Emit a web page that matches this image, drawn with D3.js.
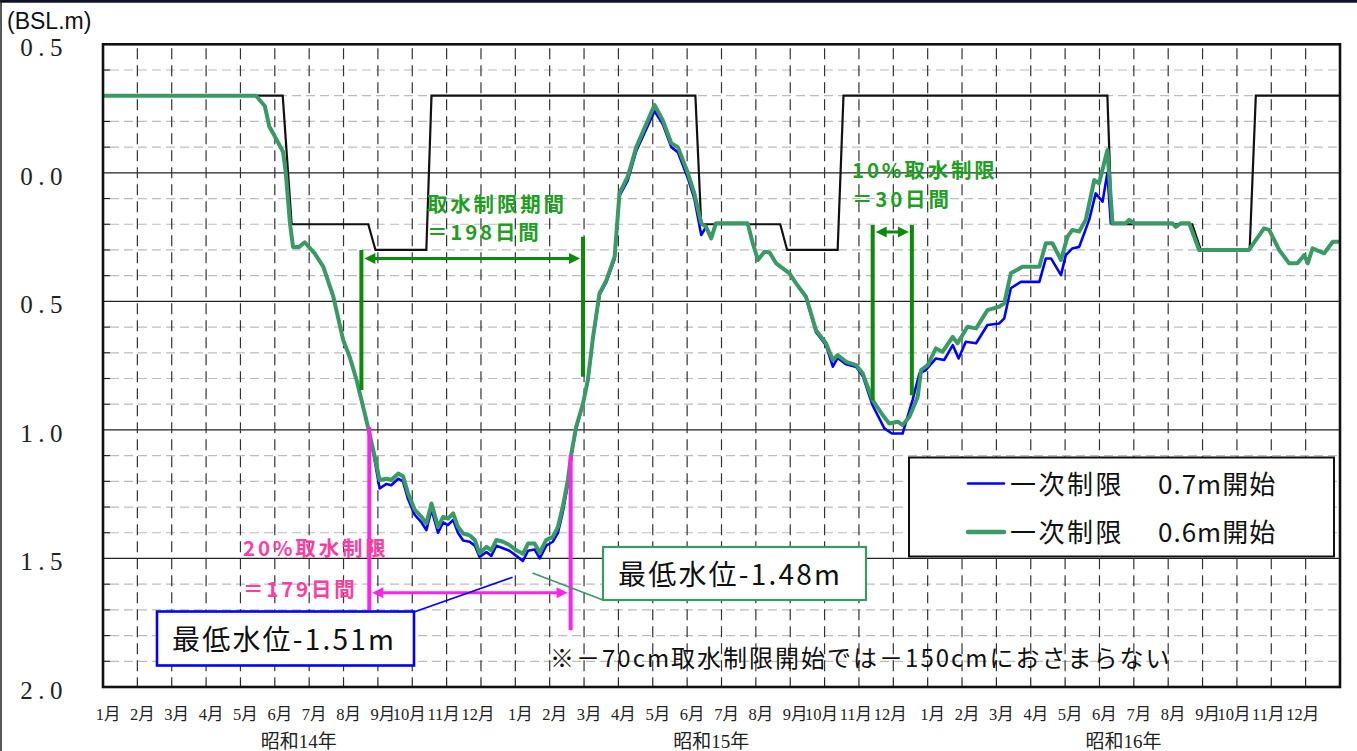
<!DOCTYPE html>
<html>
<head>
<meta charset="utf-8">
<script src="https://cdn.jsdelivr.net/npm/d3@7"></script>
<style>
  body { margin: 0; background: #fff; }
  svg { display: block; }
  .jp { font-family: "Noto Sans CJK JP", sans-serif; }
  .ser { font-family: "Liberation Serif", "Noto Sans CJK JP", serif; }
</style>
</head>
<body>
<svg id="chart" width="1357" height="751"></svg>
<script>
// months since 1 Jan 昭和14年, level in BSL m
const monthNames = ["1月","2月","3月","4月","5月","6月","7月","8月","9月","10月","11月","12月"];
const yearNames = ["昭和14年", "昭和15年", "昭和16年"];
const yTicks = [0.5, 0.0, -0.5, -1.0, -1.5, -2.0];
const minorTicks = [0.4, 0.3, 0.2, 0.1, -0.1, -0.2, -0.3, -0.4, -0.6, -0.7, -0.8, -0.9,
  -1.1, -1.2, -1.3, -1.4, -1.6, -1.7, -1.8, -1.9];
const majorLines = [0, -0.5, -1.0, -1.5];

// 制限水位 (black)
const ruleLevel = [
  [0,0.3],[5.23,0.3],[5.49,-0.2],[7.72,-0.2],[7.93,-0.3],[9.41,-0.3],[9.56,0.3],
  [17.24,0.3],[17.41,-0.2],[19.71,-0.2],[19.91,-0.3],[21.38,-0.3],[21.55,0.3],
  [29.23,0.3],[29.36,-0.2],[31.7,-0.2],[31.95,-0.3],[33.37,-0.3],[33.55,0.3],[36,0.3]
];

// 一次制限 0.6m開始 (green)
const level06 = [
  [0,0.3],[4.45,0.3],[4.71,0.26],[4.84,0.18],[4.95,0.154],[5.24,0.082],[5.32,0.0],[5.44,-0.195],
  [5.53,-0.288],[5.71,-0.288],[5.87,-0.27],[6.16,-0.313],[6.41,-0.365],[6.70,-0.48],[6.99,-0.65],
  [7.18,-0.716],[7.38,-0.806],[7.57,-0.91],[7.71,-0.988],[7.91,-1.105],[8.05,-1.195],[8.25,-1.19],
  [8.39,-1.195],[8.59,-1.17],[8.73,-1.18],[8.88,-1.247],[9.07,-1.31],[9.27,-1.338],[9.41,-1.364],
  [9.56,-1.286],[9.75,-1.377],[9.90,-1.338],[10.04,-1.345],[10.19,-1.325],[10.33,-1.377],[10.48,-1.403],
  [10.67,-1.41],[10.82,-1.428],[10.96,-1.48],[11.16,-1.455],[11.30,-1.468],[11.45,-1.428],[11.64,-1.435],
  [11.83,-1.448],[12.03,-1.468],[12.22,-1.482],[12.37,-1.442],[12.56,-1.442],[12.71,-1.478],[12.90,-1.428],
  [13.09,-1.416],[13.24,-1.377],[13.38,-1.299],[13.53,-1.195],[13.63,-1.092],[13.77,-0.988],[13.97,-0.897],
  [14.11,-0.806],[14.26,-0.64],[14.45,-0.469],[14.65,-0.417],[14.89,-0.326],[15.03,-0.08],[15.27,-0.015],
  [15.52,0.1],[16.05,0.264],[16.29,0.205],[16.54,0.115],[16.73,0.1],[17.02,0.0],[17.21,-0.08],[17.41,-0.196],
  [17.55,-0.21],[17.70,-0.255],[17.84,-0.196],[18.76,-0.196],[18.91,-0.274],[19.06,-0.339],[19.25,-0.307],
  [19.40,-0.31],[19.59,-0.352],[19.98,-0.391],[20.17,-0.43],[20.46,-0.482],[20.75,-0.612],[21.04,-0.663],
  [21.24,-0.728],[21.38,-0.709],[21.63,-0.735],[21.92,-0.748],[22.11,-0.78],[22.40,-0.884],[22.69,-0.942],
  [22.88,-0.975],[23.13,-0.968],[23.27,-0.981],[23.47,-0.949],[23.71,-0.871],[23.81,-0.767],[24.00,-0.748],
  [24.24,-0.683],[24.43,-0.696],[24.73,-0.638],[24.87,-0.663],[25.16,-0.599],[25.41,-0.605],[25.74,-0.534],
  [26.08,-0.521],[26.23,-0.508],[26.42,-0.391],[26.76,-0.365],[27.25,-0.365],[27.44,-0.274],[27.63,-0.274],
  [27.88,-0.339],[28.07,-0.248],[28.21,-0.222],[28.41,-0.228],[28.60,-0.183],[28.85,-0.028],[28.99,-0.041],
  [29.23,0.089],[29.38,-0.196],[29.77,-0.196],[29.86,-0.183],[30.01,-0.196],[31.12,-0.196],[31.22,-0.21],
  [31.37,-0.196],[31.61,-0.196],[31.90,-0.3],[33.35,-0.3],[33.79,-0.216],[33.94,-0.222],[34.23,-0.3],
  [34.52,-0.352],[34.76,-0.352],[34.96,-0.32],[35.06,-0.352],[35.20,-0.294],[35.54,-0.313],[35.79,-0.268],[36,-0.268]
];

// 一次制限 0.7m開始 (blue)
const level07 = [
  [0,0.3],[4.45,0.3],[4.71,0.26],[4.84,0.18],[4.95,0.154],[5.24,0.082],[5.32,0.0],[5.44,-0.195],
  [5.53,-0.288],[5.71,-0.288],[5.87,-0.27],[6.16,-0.313],[6.41,-0.365],[6.70,-0.48],[6.99,-0.65],
  [7.18,-0.716],[7.38,-0.806],[7.57,-0.91],[7.71,-0.988],[7.91,-1.12],[8.05,-1.228],[8.25,-1.21],
  [8.39,-1.215],[8.59,-1.19],[8.73,-1.2],[8.88,-1.27],[9.07,-1.33],[9.27,-1.36],[9.41,-1.39],
  [9.56,-1.31],[9.75,-1.40],[9.90,-1.36],[10.04,-1.37],[10.19,-1.35],[10.33,-1.40],[10.48,-1.43],
  [10.67,-1.435],[10.82,-1.45],[10.96,-1.494],[11.16,-1.475],[11.30,-1.49],[11.45,-1.45],[11.64,-1.46],
  [11.83,-1.47],[12.03,-1.49],[12.22,-1.51],[12.37,-1.47],[12.56,-1.465],[12.71,-1.50],[12.90,-1.45],
  [13.09,-1.435],[13.24,-1.40],[13.38,-1.32],[13.53,-1.21],[13.63,-1.10],[13.77,-0.995],[13.97,-0.90],
  [14.11,-0.81],[14.26,-0.645],[14.45,-0.475],[14.65,-0.425],[14.89,-0.335],[15.03,-0.09],[15.27,-0.03],
  [15.52,0.085],[16.05,0.24],[16.29,0.19],[16.54,0.10],[16.73,0.08],[17.02,-0.02],[17.21,-0.10],[17.41,-0.242],
  [17.55,-0.21],[17.70,-0.25],[17.84,-0.196],[18.76,-0.196],[18.91,-0.274],[19.06,-0.339],[19.25,-0.307],
  [19.40,-0.31],[19.59,-0.352],[19.98,-0.391],[20.17,-0.43],[20.46,-0.485],[20.75,-0.62],[21.04,-0.67],
  [21.24,-0.754],[21.38,-0.72],[21.63,-0.745],[21.92,-0.755],[22.11,-0.79],[22.40,-0.905],[22.74,-0.994],
  [22.96,-1.014],[23.27,-1.014],[23.56,-0.884],[23.76,-0.78],[23.95,-0.767],[24.24,-0.722],[24.48,-0.728],
  [24.73,-0.67],[24.90,-0.722],[25.11,-0.657],[25.41,-0.663],[25.74,-0.592],[26.08,-0.586],[26.23,-0.566],
  [26.42,-0.449],[26.71,-0.424],[27.25,-0.424],[27.44,-0.333],[27.59,-0.333],[27.88,-0.398],[28.02,-0.32],
  [28.21,-0.294],[28.41,-0.288],[28.70,-0.183],[28.89,-0.08],[29.09,-0.112],[29.23,0.0],[29.33,-0.196],
  [29.77,-0.196],[29.86,-0.183],[30.01,-0.196],[31.12,-0.196],[31.22,-0.21],[31.37,-0.196],[31.61,-0.196],
  [31.90,-0.3],[33.35,-0.3],[33.79,-0.216],[33.94,-0.222],[34.23,-0.3],[34.52,-0.352],[34.76,-0.352],
  [34.96,-0.32],[35.06,-0.352],[35.20,-0.294],[35.54,-0.313],[35.79,-0.268],[36,-0.268]
];

// brackets: [month, top level, bottom level]
const bracket198 = [[7.52,-0.30,-0.845],[13.97,-0.249,-0.793]];
const arrow198 = -0.333;
const bracket30 = [[22.40,-0.203,-0.885],[23.54,-0.203,-0.865]];
const arrow30 = -0.23;
const bracket179 = [[7.75,-0.989,-1.70],[13.61,-1.098,-1.779]];
const arrow179 = -1.633;

const svg = d3.select("#chart");
const W = 1357, H = 751;
const pL = 103, pR = 1340, pT = 44.3, pB = 687;

const x = d3.scaleLinear().domain([0, 36]).range([pL, pR]);
const y = d3.scaleLinear().domain([0.5, -2.0]).range([pT, pB]);

// frame of image
svg.append("rect").attr("width", W).attr("height", H).attr("fill", "#fff");
svg.append("line").attr("x1", 0).attr("x2", W).attr("y1", 1.2).attr("y2", 1.2)
  .attr("stroke", "#10122a").attr("stroke-width", 3);
svg.append("line").attr("x1", 1).attr("x2", 1).attr("y1", 0).attr("y2", H)
  .attr("stroke", "#222").attr("stroke-width", 1.5);

const grid = svg.append("g");
grid.selectAll(".hmin").data(minorTicks).join("line")
  .attr("x1", pL + 7).attr("x2", pR)
  .attr("y1", d => y(d)).attr("y2", d => y(d))
  .attr("stroke", "#bcbcbc").attr("stroke-width", 1.2).attr("stroke-dasharray", "9,5");
grid.selectAll(".htick").data(minorTicks).join("line")
  .attr("x1", pL).attr("x2", pL + 7)
  .attr("y1", d => y(d)).attr("y2", d => y(d))
  .attr("stroke", "#222").attr("stroke-width", 1.2);
grid.selectAll(".hmaj").data(majorLines).join("line")
  .attr("x1", pL).attr("x2", pR)
  .attr("y1", d => y(d)).attr("y2", d => y(d))
  .attr("stroke", "#222").attr("stroke-width", 1.3);
grid.selectAll(".v").data(d3.range(1, 36)).join("line")
  .attr("x1", d => x(d)).attr("x2", d => x(d))
  .attr("y1", pT + 4).attr("y2", pB - 7)
  .attr("stroke", "#333").attr("stroke-width", 1.2).attr("stroke-dasharray", "11,6");
grid.selectAll(".vt").data(d3.range(1, 36)).join("line")
  .attr("x1", d => x(d)).attr("x2", d => x(d))
  .attr("y1", pB - 7).attr("y2", pB)
  .attr("stroke", "#222").attr("stroke-width", 1.2);

// lines
const line = d3.line().x(d => x(d[0])).y(d => y(d[1]));
svg.append("path").datum(ruleLevel).attr("d", line)
  .attr("fill", "none").attr("stroke", "#111").attr("stroke-width", 2.2);
svg.append("path").datum(level07).attr("d", line)
  .attr("fill", "none").attr("stroke", "#0000ff").attr("stroke-width", 2.6).attr("stroke-linejoin", "round");
svg.append("path").datum(level06).attr("d", line)
  .attr("fill", "none").attr("stroke", "#3a9a66").attr("stroke-width", 4).attr("stroke-linejoin", "round");

// plot frame
svg.append("rect").attr("x", pL).attr("y", pT).attr("width", pR - pL).attr("height", pB - pT)
  .attr("fill", "none").attr("stroke", "#111").attr("stroke-width", 2.6);

// y labels
svg.append("g").selectAll("text").data(yTicks).join("text")
  .attr("class", "ser").attr("x", 68).attr("y", d => y(d) + 12)
  .attr("text-anchor", "end").attr("font-size", 25).attr("letter-spacing", "5.5px").attr("fill", "#222")
  .text(d => Math.abs(d).toFixed(1));
svg.append("text").attr("x", 7).attr("y", 29)
  .attr("font-family", "Liberation Sans, sans-serif")
  .attr("font-size", 23).attr("fill", "#111").text("(BSL.m)");

// x labels
svg.append("g").selectAll("text").data(d3.range(36)).join("text")
  .attr("class", "ser")
  .attr("x", d => x(d) + ((d % 12) < 9 ? 5 : -3)).attr("y", 720)
  .attr("text-anchor", "middle").attr("font-size", 16.5).attr("fill", "#222")
  .text(d => monthNames[d % 12]);
svg.append("g").selectAll("text").data(yearNames).join("text")
  .attr("class", "ser").attr("x", (d, i) => x(5.7 + 12 * i)).attr("y", 748)
  .attr("text-anchor", "middle").attr("font-size", 19).attr("fill", "#222")
  .text(d => d);

// arrows drawn as small triangles
function arrowHead(px, py, dir, color) {
  svg.append("path")
    .attr("d", `M${px},${py}l${-dir * 11},-5.5l0,11z`)
    .attr("fill", color);
}

function drawBracket(br, level, color, w) {
  const g = svg.append("g");
  g.selectAll("line").data(br).join("line")
    .attr("x1", d => x(d[0])).attr("x2", d => x(d[0]))
    .attr("y1", d => y(d[1])).attr("y2", d => y(d[2]))
    .attr("stroke", color).attr("stroke-width", w);
  const x1 = x(br[0][0]) + w / 2 + 1, x2 = x(br[1][0]) - w / 2 - 1;
  g.append("line")
    .attr("x1", x1 + 6).attr("x2", x2 - 6)
    .attr("y1", y(level)).attr("y2", y(level))
    .attr("stroke", color).attr("stroke-width", 3);
  arrowHead(x1, y(level), -1, color);
  arrowHead(x2, y(level), 1, color);
}
drawBracket(bracket198, arrow198, "#0b8a0b", 4);
drawBracket(bracket30, arrow30, "#0b8a0b", 4);
drawBracket(bracket179, arrow179, "#ff22ee", 4);

// annotation texts
function note(tx, ty, str, color) {
  svg.append("text").attr("class", "jp").attr("x", tx).attr("y", ty)
    .attr("font-size", 20.5).attr("font-weight", "bold").attr("letter-spacing", "2.8px")
    .attr("fill", color).text(str);
}
note(427, 212, "取水制限期間", "#1f9e24");
note(427, 240, "＝198日間", "#1f9e24");
note(852, 178, "10%取水制限", "#1f9e24");
note(852, 207, "＝30日間", "#1f9e24");
note(243, 556, "20%取水制限", "#ff3d9e");
note(243, 597, "＝179日間", "#ff3d9e");

// minimum level callouts
svg.append("line").attr("x1", 414).attr("y1", 612).attr("x2", x(11.92)).attr("y2", y(-1.573))
  .attr("stroke", "#0000ff").attr("stroke-width", 1.6);
svg.append("rect").attr("x", 157).attr("y", 611.5).attr("width", 257).attr("height", 54)
  .attr("fill", "#fff").attr("stroke", "#0000ff").attr("stroke-width", 2.6);
svg.append("text").attr("class", "jp").attr("x", 172).attr("y", 650)
  .attr("font-size", 28).attr("letter-spacing", "2.2px").attr("fill", "#111").text("最低水位-1.51m");

svg.append("line").attr("x1", x(12.5)).attr("y1", y(-1.557)).attr("x2", 603).attr("y2", 600)
  .attr("stroke", "#3a9a66").attr("stroke-width", 1.6);
svg.append("rect").attr("x", 603).attr("y", 547).attr("width", 263).attr("height", 53)
  .attr("fill", "#fff").attr("stroke", "#3a9a66").attr("stroke-width", 2.2);
svg.append("text").attr("class", "jp").attr("x", 618).attr("y", 585)
  .attr("font-size", 28).attr("letter-spacing", "2.2px").attr("fill", "#111").text("最低水位-1.48m");

svg.append("text").attr("class", "jp").attr("x", 550).attr("y", 667)
  .attr("font-size", 24).attr("letter-spacing", "2px").attr("fill", "#111")
  .text("※－70cm取水制限開始では－150cmにおさまらない");

// legend
const lg = svg.append("g");
lg.append("rect").attr("x", 909).attr("y", 457.5).attr("width", 425).attr("height", 99)
  .attr("fill", "#fff").attr("stroke", "#111").attr("stroke-width", 2);
const legendItems = [
  { label: "0.7m開始", color: "#0000ff", w: 2.6 },
  { label: "0.6m開始", color: "#3a9a66", w: 4.5 }
];
legendItems.forEach((d, i) => {
  const ly = 483.5 + i * 48.5;
  lg.append("line").attr("x1", 968).attr("x2", 1004).attr("y1", ly).attr("y2", ly)
    .attr("stroke", d.color).attr("stroke-width", d.w).attr("stroke-linecap", "round");
  lg.append("text").attr("class", "jp").attr("x", 1010).attr("y", ly + 10)
    .attr("font-size", 26).attr("letter-spacing", "2.5px").attr("fill", "#111").text("一次制限");
  lg.append("text").attr("class", "jp").attr("x", 1158).attr("y", ly + 10)
    .attr("font-size", 26).attr("letter-spacing", "1px").attr("fill", "#111").text(d.label);
});
</script>
</body>
</html>
